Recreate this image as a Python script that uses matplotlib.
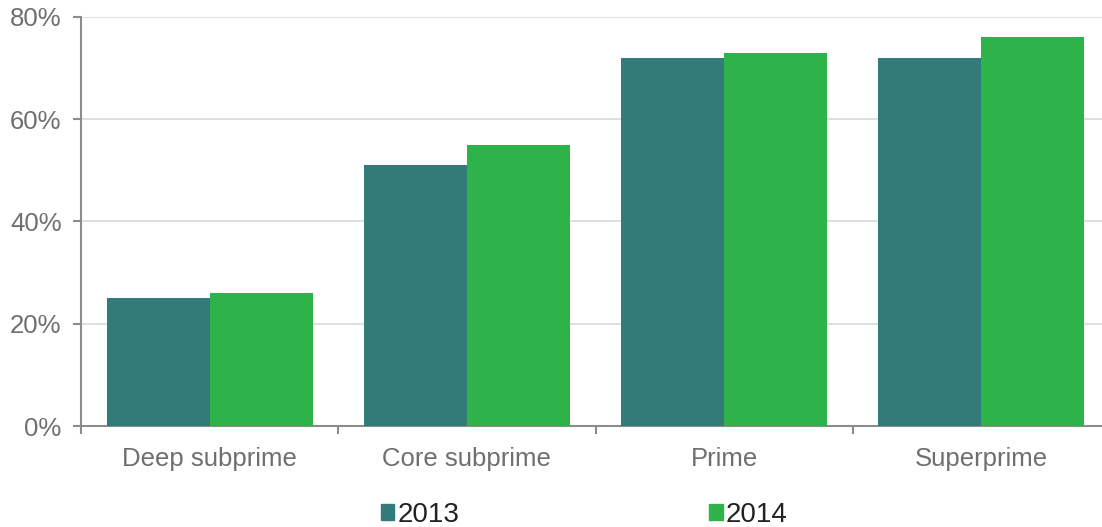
import matplotlib.pyplot as plt
from matplotlib.patches import Patch
import numpy as np

plt.rcParams['font.family'] = ['Liberation Sans', 'DejaVu Sans']

categories = ['Deep subprime', 'Core subprime', 'Prime', 'Superprime']
vals_2013 = [25, 51, 72, 72]
vals_2014 = [26, 55, 73, 76]
years = ['2013', '2014']
colors = ['#337B7A', '#2DB34A']

fig = plt.figure(figsize=(11.02, 5.27), dpi=100)
ax = fig.add_axes([81 / 1102, 1 - 426 / 527, 1029 / 1102, 409 / 527])

x = np.arange(len(categories))
w = 0.4
ax.bar(x - w / 2, vals_2013, w, color=colors[0], zorder=3)
ax.bar(x + w / 2, vals_2014, w, color=colors[1], zorder=3)

ax.set_xlim(-0.5, 3.5)
ax.set_ylim(0, 80)
ax.set_yticks([0, 20, 40, 60, 80])
ax.set_yticklabels(['0%', '20%', '40%', '60%', '80%'])
ax.yaxis.grid(True, color='#d9d9d9', linewidth=1.2, zorder=0)

ax.set_xticks(x)
ax.set_xticklabels(categories)
ax.set_xticks(np.arange(-0.5, 4.0, 1.0), minor=True)
ax.tick_params(axis='x', which='major', length=0, pad=15, labelsize=18.5, labelcolor='#6f6f6f')
ax.tick_params(axis='x', which='minor', length=6, width=1.5, color='#8c8c8c')
ax.tick_params(axis='y', length=6, width=1.5, color='#8c8c8c', labelsize=18.5, labelcolor='#6f6f6f', pad=8)

for s in ['top', 'right']:
    ax.spines[s].set_visible(False)
for s in ['left', 'bottom']:
    ax.spines[s].set_color('#8c8c8c')
    ax.spines[s].set_linewidth(1.5)

handles = [Patch(color=c) for c in colors]
fig.legend(handles, years, loc='center', bbox_to_anchor=(0.530, 0.023), ncol=2, frameon=False,
           fontsize=20, handlelength=0.5, handleheight=0.5, handletextpad=0.1,
           columnspacing=9.0, labelcolor='#222222', borderpad=0)

fig.savefig('out.png', dpi=100)
